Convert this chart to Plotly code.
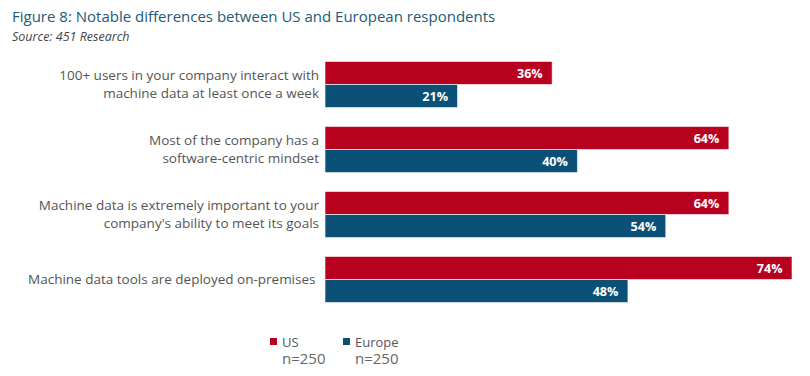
import plotly.graph_objects as go

categories = [
    "100+ users in your company interact with<br>machine data at least once a week",
    "Most of the company has a<br>software-centric mindset",
    "Machine data is extremely important to your<br>company's ability to meet its goals",
    "Machine data tools are deployed on-premises ",
]
us_values = [36, 64, 64, 74]
europe_values = [21, 40, 54, 48]
series_names = ["US", "Europe"]
sample_sizes = ["n=250", "n=250"]

US_COLOR = "#B8001F"
EU_COLOR = "#0A5077"
FONT = "Open Sans"

# page body has an 8px margin; compensate in figure coordinates
OFF = 8
PL, PR, PT, PB = 325 - OFF, 792 - OFF, 52 - OFF, 312 - OFF
W, H = 810, 376
PW, PH = PR - PL, PB - PT


def fx(px):
    return (px - OFF - PL) / PW


def fy(py):
    return (PB - (py - OFF)) / PH


fig = go.Figure()
for name, vals, color in [("US", us_values, US_COLOR), ("Europe", europe_values, EU_COLOR)]:
    fig.add_trace(go.Bar(
        y=categories, x=vals, name=name, orientation="h",
        marker=dict(color=color, line=dict(color="rgba(255,255,255,0.6)", width=1)),
        text=[f"{v}%\u00a0\u00a0" for v in vals], textposition="inside", insidetextanchor="end",
        textfont=dict(family=FONT, size=14, color="white", weight="bold"),
        cliponaxis=False, showlegend=False,
    ))

fig.update_layout(
    width=W, height=H,
    margin=dict(l=PL, r=W - PR, t=PT, b=H - PB, autoexpand=False),
    barmode="group", bargap=0.29, bargroupgap=0.0,
    plot_bgcolor="white", paper_bgcolor="white",
    font=dict(family=FONT, color="#555555", size=13.5),
    xaxis=dict(range=[0, 74], visible=False, fixedrange=True),
    yaxis=dict(autorange="reversed", showline=False, showgrid=False, ticks="",
               ticklabelstandoff=5, tickfont=dict(family=FONT, size=13.5, color="#555555")),
)

# Title and source
fig.add_annotation(text="Figure 8: Notable differences between US and European respondents",
                   xref="paper", yref="paper", x=fx(10), y=fy(16), xanchor="left", yanchor="middle",
                   showarrow=False, font=dict(family=FONT, size=15, color="#235A78"))
fig.add_annotation(text="<i>Source: 451 Research</i>",
                   xref="paper", yref="paper", x=fx(10), y=fy(36), xanchor="left", yanchor="middle",
                   showarrow=False, font=dict(family=FONT, size=12.5, color="#444444"))

# Custom legend
leg_x = [270, 343]
for i, (nm, col) in enumerate(zip(series_names, [US_COLOR, EU_COLOR])):
    px = leg_x[i]
    fig.add_shape(type="rect", xref="paper", yref="paper",
                  x0=fx(px), x1=fx(px + 7), y0=fy(338), y1=fy(345),
                  fillcolor=col, line=dict(width=0))
    fig.add_annotation(text=f"{nm}<br><span style='font-size:15px;color:#666666'>{sample_sizes[i]}</span>",
                       xref="paper", yref="paper", x=fx(px + 10), y=fy(331),
                       xanchor="left", yanchor="top", align="left", showarrow=False,
                       font=dict(family=FONT, size=13, color="#555555"))

fig.write_html("out.html")
